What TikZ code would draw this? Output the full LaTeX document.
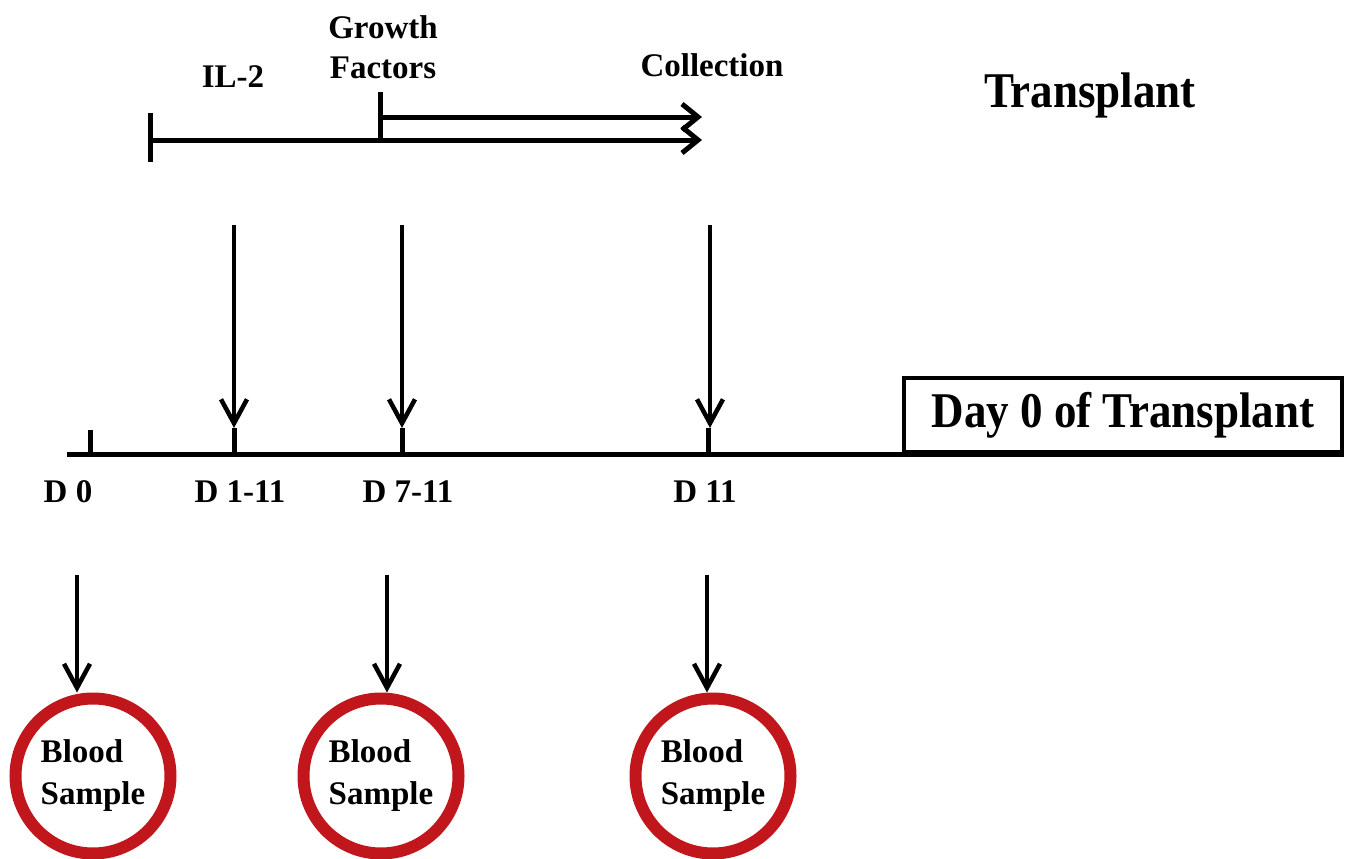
\documentclass[tikz,border=0pt]{standalone}
\usepackage{fontspec}
\usepackage{graphicx}
\setmainfont{Liberation Serif}
\usetikzlibrary{arrows.meta}
\definecolor{bloodred}{RGB}{192,22,28}
\begin{document}
\begin{tikzpicture}[x=1pt,y=-1pt,
  lbl/.style={font=\fontsize{33}{40}\selectfont\bfseries, inner sep=0pt},
  big/.style={font=\fontsize{50}{54}\selectfont\bfseries},
  tl/.style={line width=5pt},
  tickmark/.style={line width=5pt},
  downarr/.style={line width=4.5pt, -{Straight Barb[length=24pt,width=26pt]}},
  bar/.style={line width=5pt, -{Straight Barb[length=16pt,width=26pt]}},
  sample/.style={circle, draw=bloodred, line width=12pt, minimum size=155pt,
    inner sep=0pt, align=left, font=\fontsize{33}{42}\selectfont\bfseries, text=black}
]
\useasboundingbox (0,0) rectangle (1350,859);

% top labels
\node[lbl] (il2) at (233,77) {IL-2};
\node[lbl, align=center] (gf) at (383,47) {Growth\\Factors};
\node[lbl] (coll) at (712,65) {Collection};
\node[big, inner sep=0pt] (tp) at (1090,95) {\scalebox{0.9}[1]{Transplant}};

% top bars
\coordinate (ilt) at (150,113);
\coordinate (ilb) at (150,162);
\coordinate (ils) at (150,140);
\coordinate (ile) at (702,140);
\coordinate (gft) at (380,92);
\coordinate (gfs) at (380,117);
\coordinate (gfe) at (702,117);
\draw[tickmark] (ilt) -- (ilb);
\draw[bar] (ils) -- (ile);
\draw[tickmark] (gft) -- (gfs |- ils);
\draw[bar] (gfs) -- (gfe);

% box and timeline
\node[draw, line width=4pt, minimum width=438pt, minimum height=74pt,
  anchor=south east, big, inner sep=0pt] (box) at (1344,454) {\scalebox{0.9}[1]{Day 0 of Transplant}};
\coordinate (tls) at (67,454);
\draw[tl] (tls) -- (box.south east);

% ticks
\coordinate (t0) at (90,430);
\coordinate (t1) at (234,428);
\coordinate (t2) at (402,428);
\coordinate (t3) at (708,428);
\draw[tickmark] (t0) -- (t0 |- tls);
\draw[tickmark] (t1) -- (t1 |- tls);
\draw[tickmark] (t2) -- (t2 |- tls);
\draw[tickmark] (t3) -- (t3 |- tls);

% down arrows onto the timeline
\coordinate (a1) at (234,225);
\coordinate (a2) at (402,225);
\coordinate (a3) at (710,225);
\draw[downarr] (a1) -- (t1);
\draw[downarr] (a2) -- (t2);
\draw[downarr] (a3) -- (a3 |- t3);

% day labels
\node[lbl, anchor=base] (d0) at (68,502) {D 0};
\node[lbl, anchor=base] (d1) at (240,502) {D 1-11};
\node[lbl, anchor=base] (d7) at (408,502) {D 7-11};
\node[lbl, anchor=base] (d11) at (705,502) {D 11};

% blood samples
\node[sample] (c1) at (93,776) {Blood\\Sample};
\node[sample] (c2) at (381,776) {Blood\\Sample};
\node[sample] (c3) at (713,776) {Blood\\Sample};
\coordinate (b1) at (77,575);
\coordinate (b2) at (387,575);
\coordinate (b3) at (707,575);
\draw[downarr] (b1) -- (b1 |- c1.north);
\draw[downarr] (b2) -- (b2 |- c2.north);
\draw[downarr] (b3) -- (b3 |- c3.north);
\end{tikzpicture}
\end{document}
